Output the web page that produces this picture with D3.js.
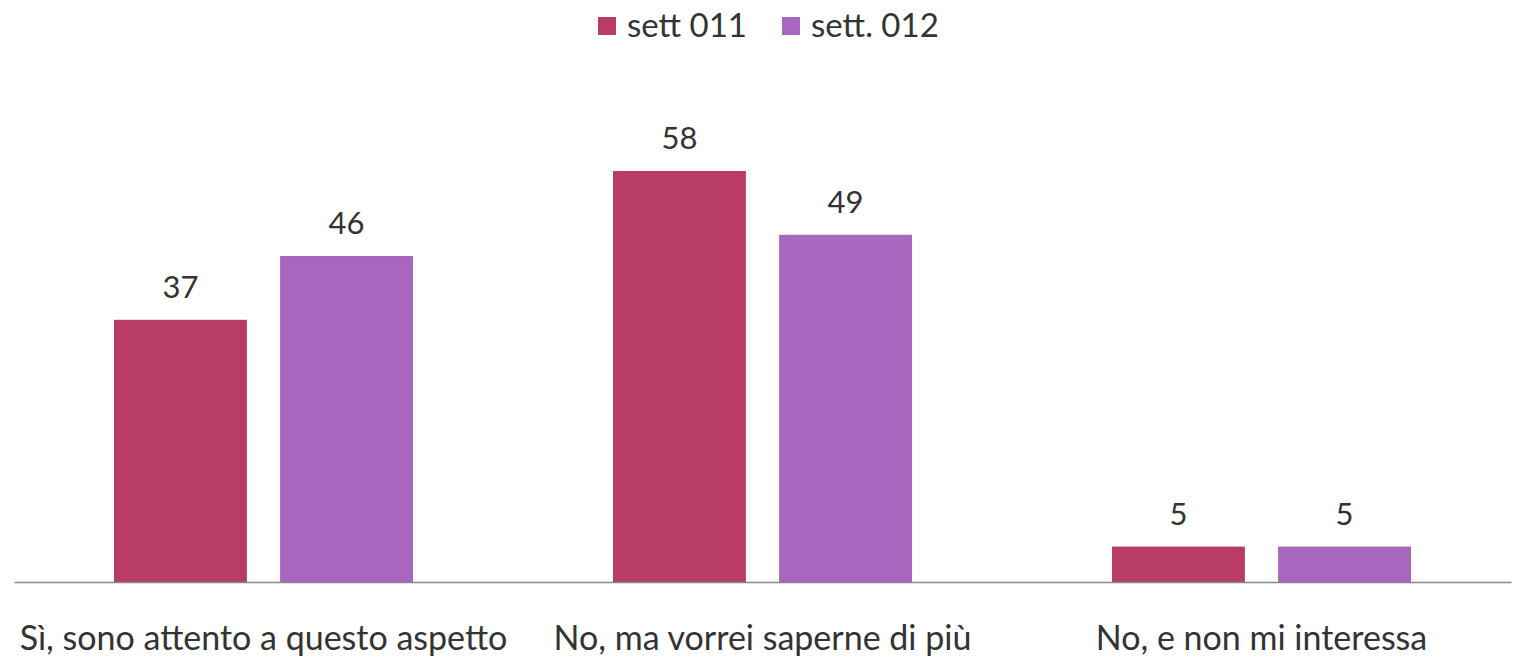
<!DOCTYPE html>
<html><head><meta charset="utf-8">
<script src="https://cdn.jsdelivr.net/npm/d3@7"></script>
<style>body{margin:0;background:#fff}svg text{font-family:Lato,"Open Sans",sans-serif;fill:#333}</style>
</head><body>
<svg id="c" width="1516" height="659"></svg>
<script>
const categories = ["Sì, sono attento a questo aspetto", "No, ma vorrei saperne di più", "No, e non mi interessa"];
const seriesNames = ["sett 011", "sett. 012"];
const sett011 = [37, 58, 5];
const sett012 = [46, 49, 5];
const colors = ["#B83C64", "#A966BE"];

const svg = d3.select("#c");
const left = 14, right = 1511, baseline = 582, groupW = 299;
const x0 = d3.scaleBand().domain(categories).range([left, right]).paddingInner(0).paddingOuter(0);
const x1 = d3.scaleBand().domain(seriesNames).range([0, groupW]).paddingInner(0.2).paddingOuter(0);
const y = d3.scaleLinear().domain([0, 58]).range([baseline, 171]);
const series = [sett011, sett012];

const g = svg.append("g");
categories.forEach((c, i) => {
  const gx = x0(c) + (x0.bandwidth() - groupW) / 2;
  series.forEach((s, j) => {
    const bx = gx + x1(seriesNames[j]);
    g.append("rect").attr("x", bx).attr("y", y(s[i])).attr("width", x1.bandwidth())
      .attr("height", baseline - y(s[i])).attr("fill", colors[j]);
    g.append("text").attr("x", bx + x1.bandwidth() / 2).attr("y", y(s[i]) - 22)
      .attr("text-anchor", "middle").attr("font-size", 31).text(s[i]);
  });
});

const xAxis = d3.axisBottom(x0).tickSize(0).tickPadding(0);
const ax = svg.append("g").attr("transform", `translate(0,${baseline})`).call(xAxis);
ax.select(".domain").attr("stroke", "#888").attr("stroke-width", 1.3);
ax.selectAll(".tick text").attr("font-size", 34).attr("dy", 0).attr("y", 68)
  .attr("fill", "#333").style("font-family", "Lato, sans-serif");

const leg = svg.append("g");
const legX = [598, 782];
seriesNames.forEach((n, j) => {
  leg.append("rect").attr("x", legX[j]).attr("y", 17).attr("width", 18).attr("height", 18).attr("fill", colors[j]);
  leg.append("text").attr("x", legX[j] + 29).attr("y", 37).attr("font-size", 33).text(n);
});
</script>
</body></html>
